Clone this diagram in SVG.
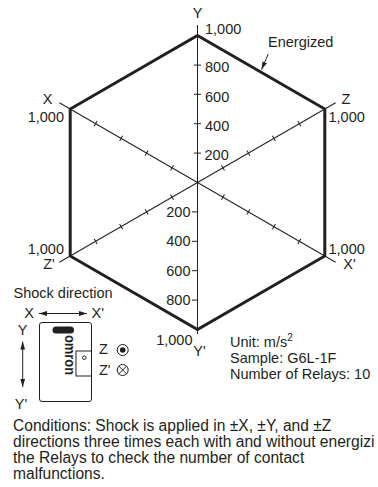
<svg xmlns="http://www.w3.org/2000/svg" width="378" height="487" viewBox="0 0 378 487">
<style>
text{font-family:"Liberation Sans",Arial,sans-serif;font-size:14.5px;fill:#231f20}
.ax{stroke:#231f20;stroke-width:1;fill:none}
.hex{stroke:#231f20;stroke-width:3;fill:none;stroke-linejoin:miter}
.e{text-anchor:end}
.m{text-anchor:middle}
.cond{font-size:15.6px}
</style>
<defs>
<marker id="ah" viewBox="0 0 10 6" refX="10" refY="3" markerWidth="8" markerHeight="5" markerUnits="userSpaceOnUse" orient="auto-start-reverse">
<path d="M0,0 L10,3 L0,6 z" fill="#231f20"/>
</marker>
<g id="tk">
<line x1="-159.5" y1="0" x2="159.5" y2="0"/>
<path d="M29.4,-3V3M58.8,-3V3M88.2,-3V3M117.6,-3V3M-29.4,-3V3M-58.8,-3V3M-88.2,-3V3M-117.6,-3V3"/>
</g>
</defs>
<g id="connectors" class="ax">
<g transform="translate(197.5,182.5) rotate(30)"><use href="#tk"/></g>
<g transform="translate(197.5,182.5) rotate(-30)"><use href="#tk"/></g>
<line x1="197.5" y1="25" x2="197.5" y2="334"/>
<path d="M194,65.1H201M194,94.3H201M194,123.7H201M194,153.1H201M192,211.9H198M192,241.3H198M192,270.7H198M192,300.1H198"/>
<line x1="268.3" y1="54" x2="261.5" y2="69.5" marker-end="url(#ah)"/>
</g>
<g id="hexagon">
<polygon class="hex" points="197.5,35.5 324.8,109 324.8,256 197.5,329.5 70.2,256 70.2,109"/>
</g>
<g id="labels">
<text x="197.5" y="18" class="m">Y</text>
<text x="205" y="34">1,000</text>
<text x="268" y="46.5">Energized</text>
<text x="205" y="72">800</text>
<text x="205" y="101.5">600</text>
<text x="205" y="131">400</text>
<text x="204.5" y="160">200</text>
<text x="190.5" y="217" class="e">200</text>
<text x="190.5" y="246" class="e">400</text>
<text x="190.5" y="275.5" class="e">600</text>
<text x="190.5" y="305" class="e">800</text>
<text x="47.5" y="104" class="m">X</text>
<text x="64" y="121.5" class="e">1,000</text>
<text x="346" y="104" class="m">Z</text>
<text x="328.5" y="121.5">1,000</text>
<text x="64" y="253.5" class="e">1,000</text>
<text x="49" y="268.5" class="m">Z'</text>
<text x="328.5" y="253.5">1,000</text>
<text x="349.5" y="268.5" class="m">X'</text>
<text x="192.5" y="345" class="e">1,000</text>
<text x="199.5" y="356" class="m">Y'</text>
</g>
<g id="info">
<text x="230" y="346.5">Unit: m/s<tspan font-size="10" dy="-5.5">2</tspan></text>
<text x="230" y="363">Sample: G6L-1F</text>
<text x="230" y="379">Number of Relays: 10</text>
</g>
<g id="shock-direction">
<text x="13.5" y="298">Shock direction</text>
<text x="29" y="317.5" class="m">X</text>
<text x="91.5" y="317.5">X'</text>
<line class="ax" x1="39" y1="313.5" x2="87" y2="313.5" marker-start="url(#ah)" marker-end="url(#ah)"/>
<text x="22.5" y="335" class="m">Y</text>
<text x="21" y="409" class="m">Y'</text>
<line class="ax" x1="22.7" y1="341.5" x2="22.7" y2="387" marker-start="url(#ah)" marker-end="url(#ah)"/>
</g>
<g id="relay">
<rect x="39.5" y="322.5" width="52" height="79" rx="2.5" class="ax"/>
<rect x="52.5" y="326.5" width="21.5" height="7" rx="3.5" fill="#231f20"/>
<text transform="translate(65.3,335) rotate(90)" font-weight="bold" font-size="12" textLength="40" lengthAdjust="spacingAndGlyphs">omron</text>
<rect x="76" y="351" width="15.5" height="25" class="ax"/>
<circle cx="84.3" cy="357.7" r="1.8" class="ax" stroke-width="0.8"/>
</g>
<g id="z-symbols">
<text x="99" y="354">Z</text>
<circle cx="122.7" cy="350" r="5.5" class="ax" stroke-width="1.2"/>
<circle cx="122.7" cy="350" r="2.8" fill="#231f20"/>
<text x="99" y="375">Z'</text>
<circle cx="122.7" cy="370" r="5.5" class="ax" stroke-width="1.2"/>
<path class="ax" d="M118.8,366.1L126.6,373.9M126.6,366.1L118.8,373.9"/>
</g>
<g id="conditions">
<text x="13" y="430.5" class="cond">Conditions: Shock is applied in ±X, ±Y, and ±Z</text>
<text x="13" y="446.5" class="cond">directions three times each with and without energizi</text>
<text x="13" y="462.5" class="cond">the Relays to check the number of contact</text>
<text x="13" y="478.5" class="cond">malfunctions.</text>
</g>
</svg>
